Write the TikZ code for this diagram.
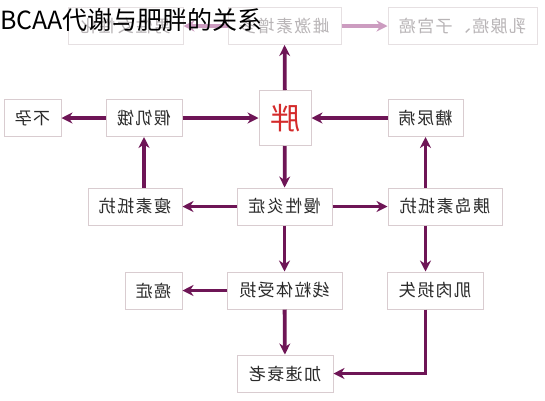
\documentclass[tikz,border=0pt]{standalone}
\usepackage{fontspec}
\usepackage{graphicx}
\setmainfont{Noto Sans CJK SC}
\usetikzlibrary{arrows.meta}
\definecolor{arr}{HTML}{6E1556}
\definecolor{fadearr}{HTML}{CC9CC0}
\definecolor{bord}{HTML}{D9CCD0}
\definecolor{fadebord}{HTML}{E6E0E2}
\definecolor{fadetxt}{HTML}{B8B4B6}
\definecolor{txt}{HTML}{2A2A2A}
\definecolor{fatred}{HTML}{D42A2A}
\tikzset{
 box/.style={draw=bord, line width=1pt, fill=white, minimum height=37pt, inner sep=0pt, text=txt, font=\fontsize{17}{17}\selectfont\addfontfeatures{LetterSpace=8}},
 fadebox/.style={box, draw=fadebord, text=fadetxt},
 conn/.style={draw=arr, line width=3.8pt, -{Stealth[length=11pt,width=11pt]}},
 fadeconn/.style={conn, draw=fadearr},
}
\begin{document}
\begin{tikzpicture}[x=1pt,y=-1pt]
\useasboundingbox (0,0) rectangle (545,400);
\fill[white] (0,0) rectangle (545,400);
\node[fadebox, minimum width=115pt] (L0) at (125.5,26) {\reflectbox{男性女性化}};
\node[fadebox, minimum width=113pt] (E) at (284.5,26) {\reflectbox{雌激素增多}};
\node[fadebox, minimum width=149pt] (R0) at (462.5,26) {\reflectbox{乳腺癌、子宫癌}};
\node[box, minimum width=57pt] (BY) at (32.5,118) {\reflectbox{不孕}};
\node[box, minimum width=76pt] (JJ) at (144,118) {\reflectbox{假饥饿}};
\node[box, minimum width=52pt, minimum height=55pt, text=fatred, font=\fontsize{30}{30}\selectfont] (P) at (285,118) {\reflectbox{胖}};
\node[box, minimum width=75pt] (TN) at (425.5,118) {\reflectbox{糖尿病}};
\node[box, minimum width=94pt] (SS) at (135,206.5) {\reflectbox{瘦素抵抗}};
\node[box, minimum width=95pt] (MX) at (284.5,206.5) {\reflectbox{慢性炎症}};
\node[box, minimum width=114pt] (YD) at (445,206.5) {\reflectbox{胰岛素抵抗}};
\node[box, minimum width=57pt] (AZ) at (153.5,290.5) {\reflectbox{癌症}};
\node[box, minimum width=115pt] (XL) at (284.5,290.5) {\reflectbox{线粒体受损}};
\node[box, minimum width=96pt] (JR) at (435,290.5) {\reflectbox{肌肉损失}};
\node[box, minimum width=96pt] (JS) at (285,373.5) {\reflectbox{加速衰老}};
\draw[conn] (P) -- (E);
\draw[fadeconn] (E) -- (L0);
\draw[fadeconn] (E) -- (R0);
\draw[conn] (JJ) -- (P);
\draw[conn] (TN) -- (P);
\draw[conn] (JJ) -- (BY);
\draw[conn] (P) -- (MX);
\draw[conn] (MX) -- (SS);
\draw[conn] (MX) -- (YD);
\draw[conn] (SS.north -| JJ) -- (JJ);
\draw[conn] (YD.north -| TN) -- (TN);
\draw[conn] (YD.south -| TN) -- (JR.north -| TN);
\draw[conn] (MX) -- (XL);
\draw[conn] (XL) -- (AZ);
\draw[conn] (XL) -- (JS);
\draw[conn] (JR.south -| TN) |- (JS);
\node[anchor=west, font=\fontsize{25}{25}\selectfont, text=black, inner sep=0pt] (T) at (0,20) {BCAA代谢与肥胖的关系};
\end{tikzpicture}
\end{document}
